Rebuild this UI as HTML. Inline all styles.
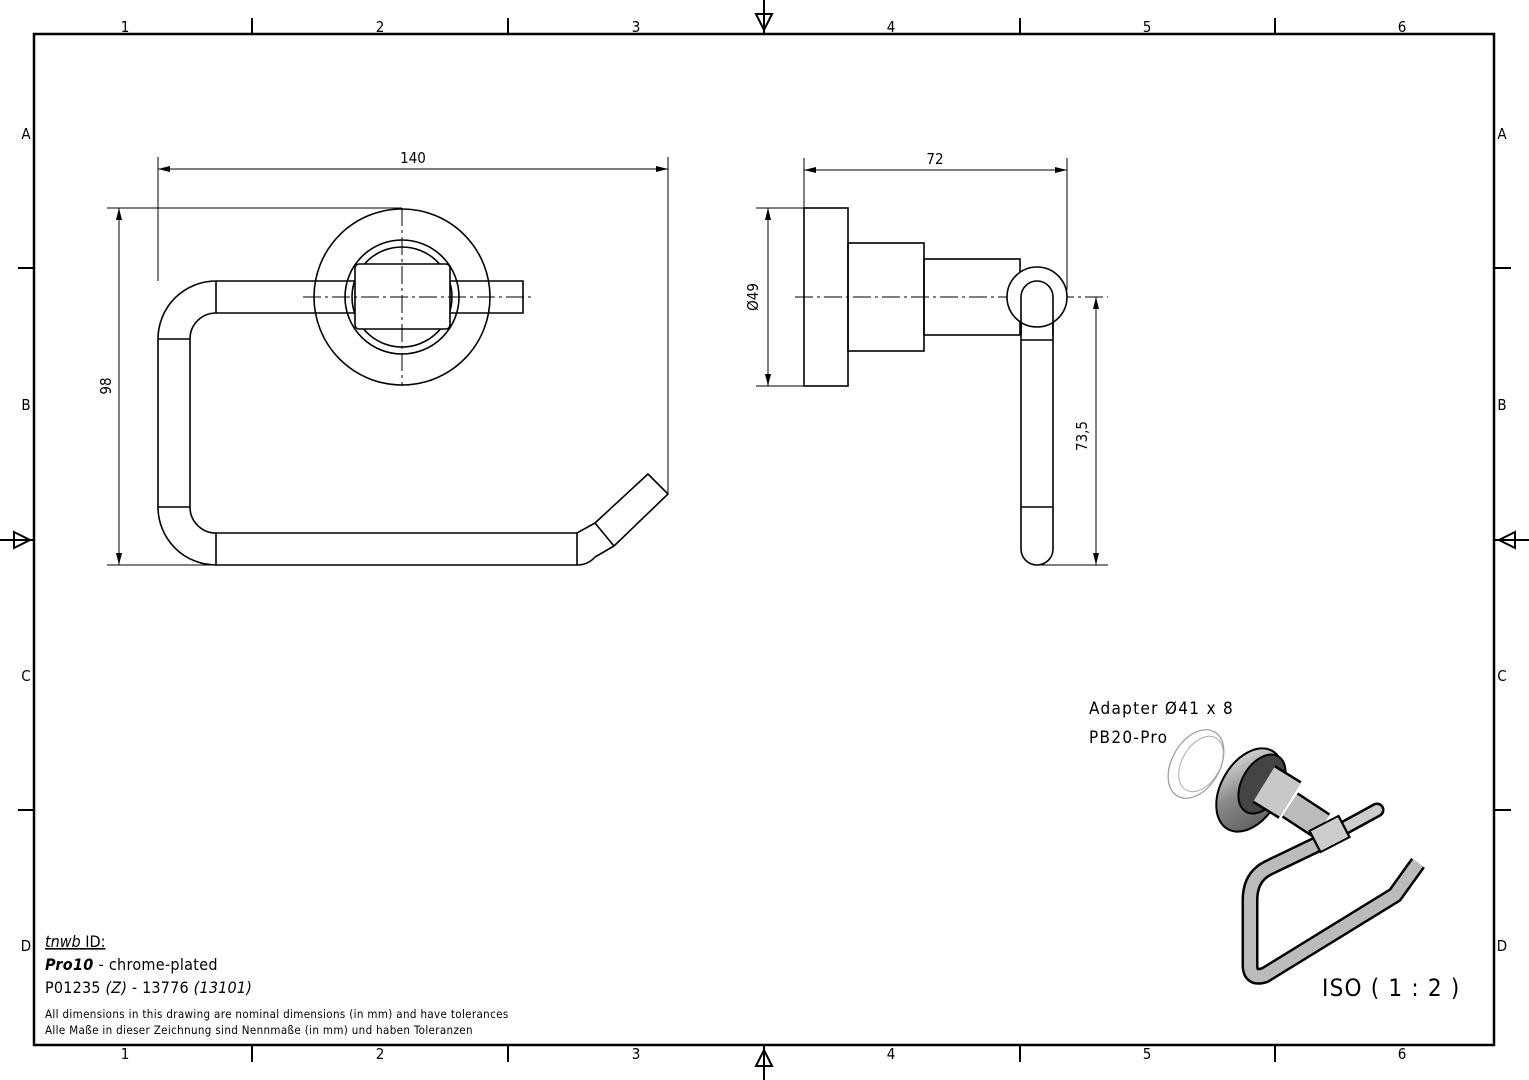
<!DOCTYPE html>
<html><head><meta charset="utf-8"><style>
html,body{margin:0;padding:0;background:#fff}
svg{display:block}
text{font-family:"DejaVu Sans Condensed","Liberation Sans",sans-serif;fill:#000}
</style></head><body>
<svg width="1529" height="1080" viewBox="0 0 1529 1080" xmlns="http://www.w3.org/2000/svg">
<defs>
<linearGradient id="g" x1="0" y1="0" x2="1" y2="1"><stop offset="0" stop-color="#eee"/><stop offset=".5" stop-color="#888"/><stop offset="1" stop-color="#555"/></linearGradient>
</defs>
<rect x="34" y="34" width="1460" height="1011" fill="none" stroke="#000" stroke-width="2.5"/>
<g stroke="#000" stroke-width="2">
<line x1="252" y1="18" x2="252" y2="34"/><line x1="508" y1="18" x2="508" y2="34"/><line x1="1020" y1="18" x2="1020" y2="34"/><line x1="1275" y1="18" x2="1275" y2="34"/>
<line x1="252" y1="1045" x2="252" y2="1062"/><line x1="508" y1="1045" x2="508" y2="1062"/><line x1="1020" y1="1045" x2="1020" y2="1062"/><line x1="1275" y1="1045" x2="1275" y2="1062"/>
<line x1="18" y1="268" x2="34" y2="268"/><line x1="18" y1="810" x2="34" y2="810"/><line x1="1494" y1="268" x2="1511" y2="268"/><line x1="1494" y1="810" x2="1511" y2="810"/>
<line x1="764" y1="0" x2="764" y2="34"/><line x1="764" y1="1045" x2="764" y2="1080"/><line x1="0" y1="540" x2="34" y2="540"/><line x1="1494" y1="540" x2="1529" y2="540"/>
</g>
<g fill="none" stroke="#000" stroke-width="2">
<path d="M756 14 L764 30 L772 14 Z"/><path d="M756 1066 L764 1050 L772 1066 Z"/>
<path d="M14 532 L30 540 L14 548 Z"/><path d="M1515 532 L1499 540 L1515 548 Z"/>
</g>
<g font-size="15" text-anchor="middle">
<text x="125" y="32">1</text><text x="380" y="32">2</text><text x="636" y="32">3</text><text x="891" y="32">4</text><text x="1147" y="32">5</text><text x="1402" y="32">6</text>
<text x="125" y="1059">1</text><text x="380" y="1059">2</text><text x="636" y="1059">3</text><text x="891" y="1059">4</text><text x="1147" y="1059">5</text><text x="1402" y="1059">6</text>
<text x="26" y="139">A</text><text x="26" y="410">B</text><text x="26" y="681">C</text><text x="26" y="951">D</text>
<text x="1502" y="139">A</text><text x="1502" y="410">B</text><text x="1502" y="681">C</text><text x="1502" y="951">D</text>
</g>

<g fill="none" stroke="#000" stroke-width="1.6">
<circle cx="402" cy="297" r="88"/>
<circle cx="402" cy="297" r="57"/>
<circle cx="402" cy="297" r="50"/>
<path d="M216 281 H355 M450 281 H523 V313 H450 M355 313 H216"/>
<rect x="355" y="264" width="95" height="65" rx="4" fill="#fff"/>
<path d="M216 281 A58 58 0 0 0 158 339 V507 A58 58 0 0 0 216 565 H577 Q588 565 595 557 L614 546"/>
<path d="M216 313 A26 26 0 0 0 190 339 V507 A26 26 0 0 0 216 533 H577 L595 523"/>
<path d="M595 523 L648 474 L668 494 L614 546"/>
<line x1="158" y1="339" x2="190" y2="339"/><line x1="158" y1="507" x2="190" y2="507"/>
<line x1="216" y1="281" x2="216" y2="313"/><line x1="216" y1="533" x2="216" y2="565"/>
<line x1="577" y1="533" x2="577" y2="565"/><line x1="595" y1="523" x2="614" y2="546"/>
</g>
<g stroke="#000" stroke-width="1" stroke-dasharray="18 4 3 4" fill="none">
<line x1="303" y1="297" x2="533" y2="297"/><line x1="402" y1="208" x2="402" y2="386"/>
<line x1="795" y1="297" x2="1108" y2="297"/>
</g>
<g stroke="#000" stroke-width="1" fill="none">
<line x1="158" y1="157" x2="158" y2="281"/><line x1="668" y1="157" x2="668" y2="493"/>
<line x1="158" y1="169" x2="668" y2="169"/>
<line x1="107" y1="208" x2="402" y2="208"/><line x1="107" y1="565" x2="216" y2="565"/>
<line x1="119" y1="208" x2="119" y2="565"/>
<line x1="804" y1="158" x2="804" y2="208"/><line x1="1067" y1="158" x2="1067" y2="290"/>
<line x1="804" y1="170" x2="1067" y2="170"/>
<line x1="756" y1="208" x2="804" y2="208"/><line x1="756" y1="386" x2="804" y2="386"/>
<line x1="768" y1="208" x2="768" y2="386"/>
<line x1="1037" y1="565" x2="1108" y2="565"/>
<line x1="1096" y1="297" x2="1096" y2="565"/>
</g>
<g fill="#000">
<path d="M158 169 l12 -3 v6z M668 169 l-12 -3 v6z M119 208 l-3 12 h6z M119 565 l-3 -12 h6z M804 170 l12 -3 v6z M1067 170 l-12 -3 v6z M768 208 l-3 12 h6z M768 386 l-3 -12 h6z M1096 297 l-3 12 h6z M1096 565 l-3 -12 h6z"/>
</g>
<g font-size="15" text-anchor="middle">
<text x="413" y="163">140</text>
<text x="935" y="164">72</text>
<text transform="translate(111,386) rotate(-90)">98</text>
<text transform="translate(758,297) rotate(-90)">Ø49</text>
<text transform="translate(1087,436) rotate(-90)">73,5</text>
</g>
<g fill="none" stroke="#000" stroke-width="1.6">
<rect x="804" y="208" width="44" height="178"/>
<rect x="848" y="243" width="76" height="108"/>
<rect x="924" y="259" width="96" height="76"/>
<path d="M1021 297 V549 A16 16 0 0 0 1053 549 V297"/>
<line x1="1021" y1="340" x2="1053" y2="340"/><line x1="1021" y1="507" x2="1053" y2="507"/>
<circle cx="1037" cy="297" r="30" fill="#fff"/>
<path d="M1021 335 V297 A16 16 0 0 1 1053 297 V335"/>
</g>

<g fill="none">
<ellipse cx="1196" cy="764" rx="24" ry="37" transform="rotate(30 1196 764)" stroke="#999" stroke-width="1.2"/>
<ellipse cx="1201" cy="764" rx="19" ry="30" transform="rotate(30 1201 764)" stroke="#aaa" stroke-width="1"/>
<path d="M1320 843 L1268 868 Q1250 877 1250 900 V965 Q1250 980 1265 975 L1395 895 L1418 863" stroke="#000" stroke-width="17" stroke-linejoin="round"/>
<path d="M1320 843 L1268 868 Q1250 877 1250 900 V965 Q1250 980 1265 975 L1395 895 L1418 863" stroke="#bbb" stroke-width="12" stroke-linejoin="round"/>
<ellipse cx="1250" cy="790" rx="29" ry="45" transform="rotate(30 1250 790)" fill="url(#g)" stroke="#000" stroke-width="2"/>
<ellipse cx="1262" cy="784" rx="20" ry="32" transform="rotate(30 1262 784)" fill="#444" stroke="#000" stroke-width="2"/>
<path d="M1264 784 L1290 800" stroke="#000" stroke-width="44"/>
<path d="M1264 784 L1290 800" stroke="#c8c8c8" stroke-width="39"/>
<path d="M1290 805 L1322 826" stroke="#000" stroke-width="30"/>
<path d="M1290 805 L1322 826" stroke="#bbb" stroke-width="25"/>
<path d="M1322 840 L1377 810" stroke="#000" stroke-width="15" stroke-linecap="round"/>
<path d="M1322 840 L1377 810" stroke="#ccc" stroke-width="10" stroke-linecap="round"/>
<path d="M1314 842 L1345 826" stroke="#000" stroke-width="26"/>
<path d="M1316 841 L1343 827" stroke="#ccc" stroke-width="22"/>
</g>
<g font-size="17">
<text x="1089" y="714" letter-spacing="1.3">Adapter Ø41 x 8</text>
<text x="1089" y="743" letter-spacing="1.3">PB20-Pro</text>
<text x="1322" y="996" font-size="24" letter-spacing="1.2">ISO ( 1 : 2 )</text>
</g>
<g>
<text x="45" y="947" font-size="16" font-style="italic" text-decoration="underline">tnwb <tspan font-style="normal">ID:</tspan></text>
<text x="45" y="970" font-size="16" letter-spacing="0.3"><tspan font-weight="bold" font-style="italic">Pro10</tspan> - chrome-plated</text>
<text x="45" y="993" font-size="16" letter-spacing="0.2">P01235 <tspan font-style="italic">(Z)</tspan> - 13776 <tspan font-style="italic">(13101)</tspan></text>
<text x="45" y="1018" font-size="11.5" letter-spacing="0.35">All dimensions in this drawing are nominal dimensions (in mm) and have tolerances</text>
<text x="45" y="1034" font-size="11.5" letter-spacing="0.35">Alle Maße in dieser Zeichnung sind Nennmaße (in mm) und haben Toleranzen</text>
</g>
</svg>
</body></html>
